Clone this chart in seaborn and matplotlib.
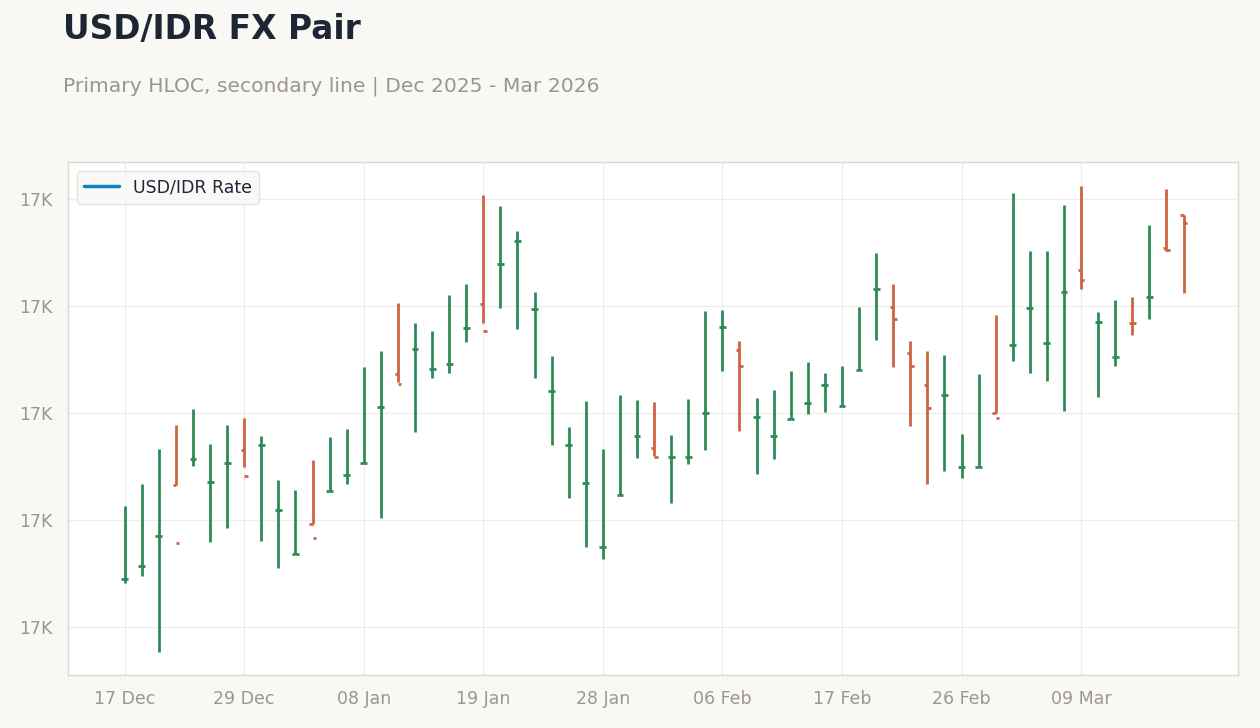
import matplotlib
matplotlib.use("Agg")
import matplotlib.pyplot as plt
import seaborn as sns
import numpy as np
import pandas as pd
from matplotlib.lines import Line2D
from matplotlib.ticker import FuncFormatter, FixedLocator

# ---------------- data ----------------
high = [16706.7, 16717.0, 16733.3, 16744.5, 16752.0, 16735.7, 16744.5, 16747.8, 16739.4, 16718.8,
        16714.2, 16728.2, 16738.9, 16742.7, 16771.5, 16779.1, 16801.5, 16792.2, 16788.5, 16805.3,
        16810.4, 16852.0, 16846.9, 16835.2, 16806.7, 16776.8, 16743.6, 16755.7, 16733.3, 16758.6,
        16756.2, 16755.3, 16739.9, 16756.7, 16797.8, 16798.3, 16783.8, 16757.2, 16760.9, 16769.8,
        16774.0, 16768.8, 16772.1, 16799.7, 16824.9, 16810.4, 16783.8, 16779.1, 16777.2, 16740.3,
        16768.4, 16795.9, 16852.9, 16825.8, 16825.8, 16847.3, 16856.2, 16797.3, 16802.9, 16804.3,
        16838.0, 16854.8, 16842.8]
low = [16670.6, 16674.1, 16638.6, 16716.5, 16725.5, 16690.0, 16696.5, 16725.0, 16690.5, 16677.6,
       16684.4, 16698.3, 16713.7, 16717.1, 16726.8, 16701.2, 16764.5, 16741.4, 16766.6, 16769.0,
       16783.5, 16792.3, 16799.3, 16789.5, 16766.6, 16735.3, 16710.6, 16687.7, 16682.1, 16712.0,
       16729.3, 16730.0, 16708.2, 16726.4, 16733.0, 16769.9, 16741.9, 16721.8, 16728.8, 16747.5,
       16749.8, 16750.8, 16753.6, 16770.4, 16784.4, 16771.8, 16744.2, 16717.1, 16723.2, 16719.9,
       16725.0, 16750.3, 16774.6, 16769.0, 16765.2, 16751.2, 16808.2, 16757.8, 16772.2, 16786.7,
       16794.2, 16825.8, 16806.4]
open_ = [16672.7, 16678.8, 16692.8, 16716.5, 16728.8, 16718.0, 16726.9, 16733.0, 16735.3, 16705.0,
         16684.4, 16698.3, 16713.7, 16721.3, 16726.8, 16753.1, 16768.5, 16780.2, 16770.8, 16773.2,
         16790.0, 16801.2, 16819.9, 16830.7, 16798.9, 16760.6, 16735.3, 16717.6, 16687.7, 16712.0,
         16739.5, 16733.9, 16729.7, 16729.7, 16750.3, 16790.5, 16779.7, 16748.4, 16739.5, 16747.5,
         16755.0, 16763.4, 16753.6, 16770.4, 16808.2, 16799.8, 16778.3, 16763.4, 16758.7, 16725.0,
         16725.0, 16750.3, 16782.1, 16799.3, 16783.0, 16806.8, 16817.1, 16792.8, 16776.5, 16792.4,
         16804.5, 16827.1, 16842.8]
close = [16672.7, 16678.8, 16692.8, 16689.5, 16728.8, 16718.0, 16726.9, 16720.8, 16735.3, 16705.0,
         16684.4, 16691.9, 16713.7, 16721.3, 16726.8, 16753.1, 16763.8, 16780.2, 16770.8, 16773.2,
         16790.0, 16788.6, 16819.9, 16830.7, 16798.9, 16760.6, 16735.3, 16717.6, 16687.7, 16712.0,
         16739.5, 16729.7, 16729.7, 16729.7, 16750.3, 16790.5, 16772.2, 16748.4, 16739.5, 16747.5,
         16755.0, 16763.4, 16753.6, 16770.4, 16808.2, 16794.2, 16772.2, 16752.6, 16758.7, 16725.0,
         16725.0, 16747.8, 16782.1, 16799.3, 16783.0, 16806.8, 16812.4, 16792.8, 16776.5, 16792.2,
         16804.5, 16826.4, 16839.1]

date_labels = ["17 Dec", "29 Dec", "08 Jan", "19 Jan", "28 Jan", "06 Feb", "17 Feb", "26 Feb", "09 Mar"]
label_step = 7
y_ticks = [16650, 16700, 16750, 16800, 16850]
legend_label = "USD/IDR Rate"

# ---------------- style ----------------
UP = "#2e8b57"
DOWN = "#cc6343"
BG = "#f9f8f5"
SPINE = "#ddd8d0"
GRID = "#ededed"
TXT_GRAY = "#9a9690"
TITLE = "#1e2636"
LINE_BLUE = "#0a84c8"

sns.set_theme(style="whitegrid")
plt.rcParams["font.family"] = ["DejaVu Sans"]

df = pd.DataFrame({"high": high, "low": low, "open": open_, "close": close})
df["idx"] = np.arange(len(df))
df["color"] = np.where(df["close"] >= df["open"], UP, DOWN)

fig = plt.figure(figsize=(12.6, 7.28), dpi=100, facecolor=BG)
ax = fig.add_axes([68 / 1260, 1 - 675 / 728, (1238 - 68) / 1260, (675 - 162) / 728])
ax.set_facecolor("white")

w = 0.2
lw = 2.0
ax.vlines(df["idx"], df["low"], df["high"], colors=df["color"], lw=lw, zorder=3)
ax.hlines(df["open"], df["idx"] - w, df["idx"], colors=df["color"], lw=lw, zorder=3)
ax.hlines(df["close"], df["idx"], df["idx"] + w, colors=df["color"], lw=lw, zorder=3)

ax.set_xlim(-3.32, 65.19)
ax.set_ylim(16627.7, 16867.4)

ax.xaxis.set_major_locator(FixedLocator(np.arange(len(date_labels)) * label_step))
ax.set_xticklabels(date_labels)
ax.yaxis.set_major_locator(FixedLocator(y_ticks))
ax.yaxis.set_major_formatter(FuncFormatter(lambda v, _: f"{v / 1000:.0f}K"))

ax.grid(True, color=GRID, lw=0.9)
ax.set_axisbelow(True)
for s in ax.spines.values():
    s.set_color(SPINE)
    s.set_linewidth(1.0)
ax.tick_params(axis="both", colors=TXT_GRAY, labelsize=12.5, length=5, width=1, direction="out",
               labelcolor=TXT_GRAY, pad=6)
ax.tick_params(axis="both", color="#a8a49e")
ax.set_xlabel("")
ax.set_ylabel("")

handle = Line2D([0], [0], color=LINE_BLUE, lw=2.5)
leg = ax.legend([handle], [legend_label], loc="upper left", fontsize=12.5, frameon=True,
                facecolor=BG, edgecolor="#e2ddd5", handlelength=2.0, borderpad=0.42,
                bbox_to_anchor=(0.0, 1.0), borderaxespad=0.52)
for t in leg.get_texts():
    t.set_color(TITLE)
leg.get_frame().set_linewidth(1.0)

fig.text(63 / 1260, 1 - 30 / 728, "USD/IDR FX Pair", fontsize=23.7, fontweight="bold",
         color=TITLE, ha="left", va="center")
fig.text(63 / 1260, 1 - 86 / 728, "Primary HLOC, secondary line | Dec 2025 - Mar 2026",
         fontsize=14.6, color=TXT_GRAY, ha="left", va="center")

fig.savefig("out.png", dpi=100, facecolor=BG)
